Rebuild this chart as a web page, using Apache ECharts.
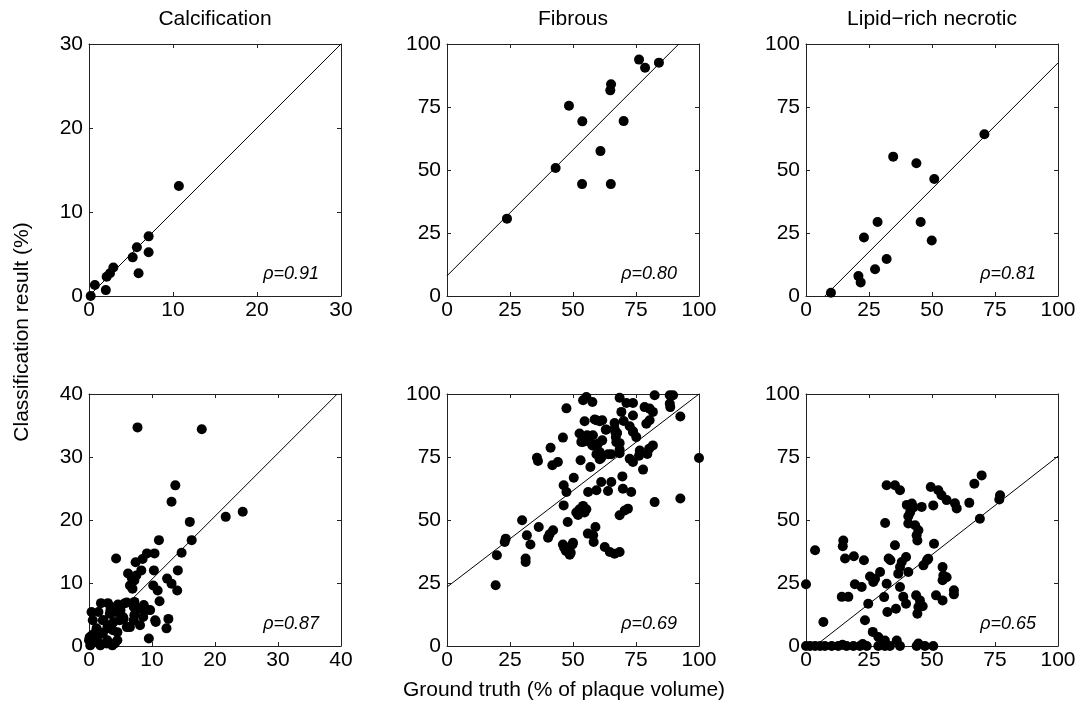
<!DOCTYPE html>
<html><head><meta charset="utf-8">
<script src="https://cdn.jsdelivr.net/npm/echarts@6/dist/echarts.min.js"></script>
<style>html,body{margin:0;padding:0;background:#fff}#c{width:1080px;height:708px}</style>
</head><body><div id="c"></div><script>
const titles = ['Calcification', 'Fibrous', 'Lipid\u2212rich necrotic'];
const yAxisTitle = 'Classification result (%)';
const xAxisTitle = 'Ground truth (% of plaque volume)';
const axisMax = [30, 100, 100, 40, 100, 100];
const axisInterval = [10, 25, 25, 10, 25, 25];
const rhoLabels = ['\u03c1=0.91', '\u03c1=0.80', '\u03c1=0.81', '\u03c1=0.87', '\u03c1=0.69', '\u03c1=0.65'];
const fitLines = [
  [[0, 0], [30, 30]],
  [[0, 8], [92, 100]],
  [[7.5, 0], [100, 92.5]],
  [[0, 0.6], [39.4, 40]],
  [[0, 23.4], [100, 100]],
  [[3.6, 0], [100, 75.3]]
];
const calcTop = [[0.2,0],[0.7,1.3],[2.0,0.7],[2.1,2.3],[2.5,2.7],[2.9,3.4],[5.2,4.6],[5.7,5.8],[5.9,2.7],[7.1,7.1],[7.1,5.2],[10.7,13.1]];
const fibTop = [[23.8,30.7],[43.1,50.8],[48.4,75.5],[53.7,69.3],[53.6,44.4],[60.9,57.5],[65.1,84.0],[64.8,81.6],[65.0,44.4],[70.1,69.4],[76.2,93.8],[78.6,90.6],[84.1,92.6]];
const lipTop = [[9.9,1.3],[20.8,7.9],[21.7,5.4],[23.0,23.2],[27.4,10.6],[28.4,29.4],[32.0,14.7],[34.6,55.3],[43.8,52.7],[45.5,29.4],[49.9,22.0],[50.9,46.4],[70.8,64.2]];
const calcBot = [
  [7.7,34.7],[17.9,34.4],[13.7,25.5],[13.1,22.9],[21.7,20.5],[24.4,21.3],[16.0,19.7],[11.1,16.8],[16.3,16.8],[14.7,14.8],
  [4.3,13.9],[7.4,13.3],[8.5,13.8],[9.2,14.7],[10.4,14.7],[6.2,11.5],[7.5,11.2],[8.3,12.0],[7.2,10.4],[6.5,9.6],[6.9,9.1],
  [10.3,12.0],[10.2,9.6],[10.9,8.8],[11.2,7.1],[12.4,10.7],[13.1,9.9],[14.0,8.8],[14.1,12.0],[12.6,4.3],[12.3,2.8],[9.5,1.2],
  [10.6,3.8],[8.6,4.6],[9.1,5.7],[8.0,5.9],[7.2,7.0],[7.2,4.9],[6.5,3.0],[5.7,6.8],[4.6,6.6],[3.5,6.2],[3.0,6.8],[1.9,6.8],
  [0.4,5.4],[0.6,4.1],[1.2,2.8],[2.2,4.1],[3.3,5.1],[4.3,5.4],[5.4,4.6],[4.9,4.1],[3.0,3.3],[3.8,2.5],[2.2,2.0],[1.7,0.4],
  [0.4,0.4],[0.1,1.4],[2.8,0.4],[4.1,0.4],[0.9,2.0],
  [6.0,6.9],[8.7,6.5],[9.7,5.7],[10.5,4.1],[7.1,4.1],[8.1,3.3],[6.0,3.0],[5.5,4.3],[3.9,3.8],[2.3,4.1],[1.5,5.4],[3.4,5.7],
  [5.0,5.7],[1.3,2.5],[2.9,2.8],[4.5,2.2],[0,0.9],[1.3,0.9],[2.9,0.9],[4.5,0.9],[0.2,0.1],[1.8,0.1],[3.7,0.1],[0.5,1.7],
  [1.5,2.0],[7.1,6.2],[6.8,10.8]
];
const fibBot = [
  [19.3,24.1],[19.8,36.0],[22.9,41.3],[23.3,42.6],[29.8,49.9],[31.7,43.9],[31.2,34.7],[31.2,33.3],[33.1,40.3],
  [35.7,74.7],[36.1,73.4],[36.4,47.2],[40.1,43.0],[40.7,44.3],[42.1,45.9],[41.1,78.7],[41.8,71.7],[44.0,73.0],
  [47.4,94.3],[46.0,82.7],[46.3,63.8],[47.4,61.1],[46.3,55.8],[47.9,49.2],
  [46.0,40.3],[47.9,39.0],[49.8,40.3],[47.2,37.7],[49.1,37.0],[48.7,36.2],[50.0,41.0],[46.5,39.0],
  [50.3,66.8],[53.0,73.7],[52.6,84.3],[54.0,81.0],[54.6,89.2],[54.0,97.5],[55.3,98.8],[57.7,96.8],
  [51.3,53.0],[52.6,54.3],[54.0,55.6],[55.3,54.3],[54.6,53.0],[52.0,52.0],
  [56.0,61.1],[56.9,71.0],[57.7,79.6],[55.6,83.6],[57.9,83.6],[55.9,44.6],[58.0,43.9],[58.2,41.3],[58.9,47.2],
  [59.3,89.6],[61.6,89.6],[63.0,85.8],[61.6,81.6],[60.6,77.0],[61.2,74.7],
  [59.3,61.8],[61.2,65.1],[63.9,61.5],[62.6,39.3],[64.6,37.3],[66.5,36.6],[68.5,37.3],
  [65.2,65.1],[65.2,76.1],[66.5,88.5],[67.5,84.5],[68.5,80.5],[68.5,78.0],[68.5,76.5],
  [68.5,98.5],[69.2,92.9],[70.1,89.3],[68.5,51.9],[69.6,67.3],[69.8,62.4],[70.5,53.8],[71.8,54.5],
  [71.2,96.4],[73.8,96.4],[72.5,74.3],[73.8,73.0],[73.1,61.1],[73.8,91.5],[73.8,84.9],[75.1,82.9],[76.5,77.6],[77.8,70.0],
  [78.4,94.8],[80.4,94.2],[79.1,88.2],[80.4,89.6],[80.2,78.3],[81.7,79.6],[81.7,92.9],[82.4,99.5],[82.4,57.1],
  [88.4,99.5],[89.7,99.5],[88.4,96.2],[88.6,94.8],[92.6,91.1],[92.6,58.5],[100,74.6],
  [58.6,89.9],[60.6,89.2],[63.2,85.9],[66.5,86.2],[66.8,84.9],[67.0,82.9],[67.2,80.9],[72.5,87.2],[73.8,85.2],
  [53.3,81.0],[56.6,81.0],[59.9,80.3],[58.0,79.6],[59.3,76.1],[60.6,74.1],[63.9,76.1],[76.2,75.5],[79.5,76.2]
];
const lipBot = [
  [0,24.5],[3.6,38.0],[6.9,9.5],[14.8,41.9],[14.6,39.6],[15.5,34.7],[14.2,19.5],[16.8,19.5],[19.0,35.6],[23.0,34.0],
  [19.4,24.5],[22.1,23.4],[25.4,27.6],[26.7,25.4],[27.4,26.7],[24.7,16.8],[23.4,10.2],[29.4,29.4],[32.0,24.7],[31.0,19.4],
  [32.3,13.5],[26.5,5.6],[28.7,3.6],[31.4,48.8],[32.0,63.8],[35.3,63.8],[37.3,61.8],[32.8,34.7],[33.5,34.0],[35.3,40.0],
  [37.3,31.3],[38.0,33.3],[39.7,35.3],[36.6,28.7],[37.3,23.4],[38.6,19.5],[39.7,16.8],[35.7,14.8],
  [40.0,56.0],[42.0,56.5],[42.6,55.0],[41.3,53.0],[40.6,51.5],[40.6,48.6],[43.3,47.9],[44.6,45.9],[43.9,43.9],[44.2,41.9],
  [45.9,55.2],[43.7,20.1],[45.2,18.1],[44.6,15.5],[44.2,12.8],[46.3,15.8],[40.6,29.4],[46.6,32.0],[48.0,34.0],
  [49.5,63.1],[52.5,61.8],[53.8,59.8],[55.8,57.9],[59.1,56.6],[59.8,54.6],[50.5,55.8],[50.8,40.6],[48.5,34.6],
  [54.2,31.3],[54.5,28.0],[55.8,27.3],[54.2,26.1],[51.6,20.1],[54.2,18.1],[58.7,22.1],[58.7,20.5],
  [64.8,56.8],[66.8,64.4],[69.7,67.7],[69.0,50.5],[77.0,59.8],[76.7,58.1],
  [0,0],[1.6,0],[3.6,0],[5.6,0],[7.5,0],[10.2,0],[12.8,0],[14.5,0.5],[16.1,0],[18.8,0],[21.4,0],[22.5,0.8],[24.1,0],
  [28.7,0],[31.3,0],[33.3,0],[36.0,2.2],[37.3,0],[31.3,2.2],[43.9,0],[44.6,1.0],[47.2,0],[50.5,0]
];

const panels = [calcTop, fibTop, lipTop, calcBot, fibBot, lipBot];
const FONT = '"Liberation Sans", Arial, Helvetica, sans-serif';
const L = [89, 447, 806], T = [44, 394], S = 252;
const grid = [], xAxis = [], yAxis = [], series = [], graphic = [];
panels.forEach((d, i) => {
  const col = i % 3, row = Math.floor(i / 3);
  grid.push({ left: L[col], top: T[row], width: S, height: S, show: false });
  const base = {
    type: 'value', gridIndex: i, min: 0, max: axisMax[i], interval: axisInterval[i],
    axisLine: { show: true, onZero: false, lineStyle: { color: '#222', width: 1 } },
    axisTick: { show: true, inside: true, length: 4, lineStyle: { color: '#222', width: 1 } },
    splitLine: { show: false }
  };
  xAxis.push(Object.assign({}, base, { position: 'bottom',
    axisLabel: { show: true, color: '#000', fontSize: 21, fontFamily: FONT, margin: 4 } }));
  xAxis.push(Object.assign({}, base, { position: 'top', axisLabel: { show: false } }));
  yAxis.push(Object.assign({}, base, { position: 'left',
    axisLabel: { show: true, color: '#000', fontSize: 21, fontFamily: FONT, margin: 6 } }));
  yAxis.push(Object.assign({}, base, { position: 'right', axisLabel: { show: false } }));
  series.push({ type: 'line', xAxisIndex: 2 * i, yAxisIndex: 2 * i, data: fitLines[i], symbol: 'none',
    lineStyle: { color: '#000', width: 1 }, silent: true, z: 2 });
  series.push({ type: 'scatter', xAxisIndex: 2 * i, yAxisIndex: 2 * i, data: d, symbol: 'circle',
    symbolSize: 10, itemStyle: { color: '#000', opacity: 1 }, clip: false, z: 3 });
  graphic.push({ type: 'text', x: L[col] + S - 22, y: T[row] + S - 22,
    style: { text: rhoLabels[i], fill: '#000', font: 'italic 18px ' + FONT, align: 'right', verticalAlign: 'middle' } });
  if (row === 0) {
    graphic.push({ type: 'text', x: L[col] + S / 2, y: 19,
      style: { text: titles[col], fill: '#000', font: '21px ' + FONT, align: 'center', verticalAlign: 'middle' } });
  }
});
graphic.push({ type: 'text', x: 22, y: 332, rotation: Math.PI / 2,
  style: { text: yAxisTitle, fill: '#000', font: '21px ' + FONT, align: 'center', verticalAlign: 'middle' } });
graphic.push({ type: 'text', x: 564, y: 690,
  style: { text: xAxisTitle, fill: '#000', font: '21px ' + FONT, align: 'center', verticalAlign: 'middle' } });

const chart = echarts.init(document.getElementById('c'));
chart.setOption({ animation: false, backgroundColor: '#fff', grid, xAxis, yAxis, series, graphic });
</script></body></html>
